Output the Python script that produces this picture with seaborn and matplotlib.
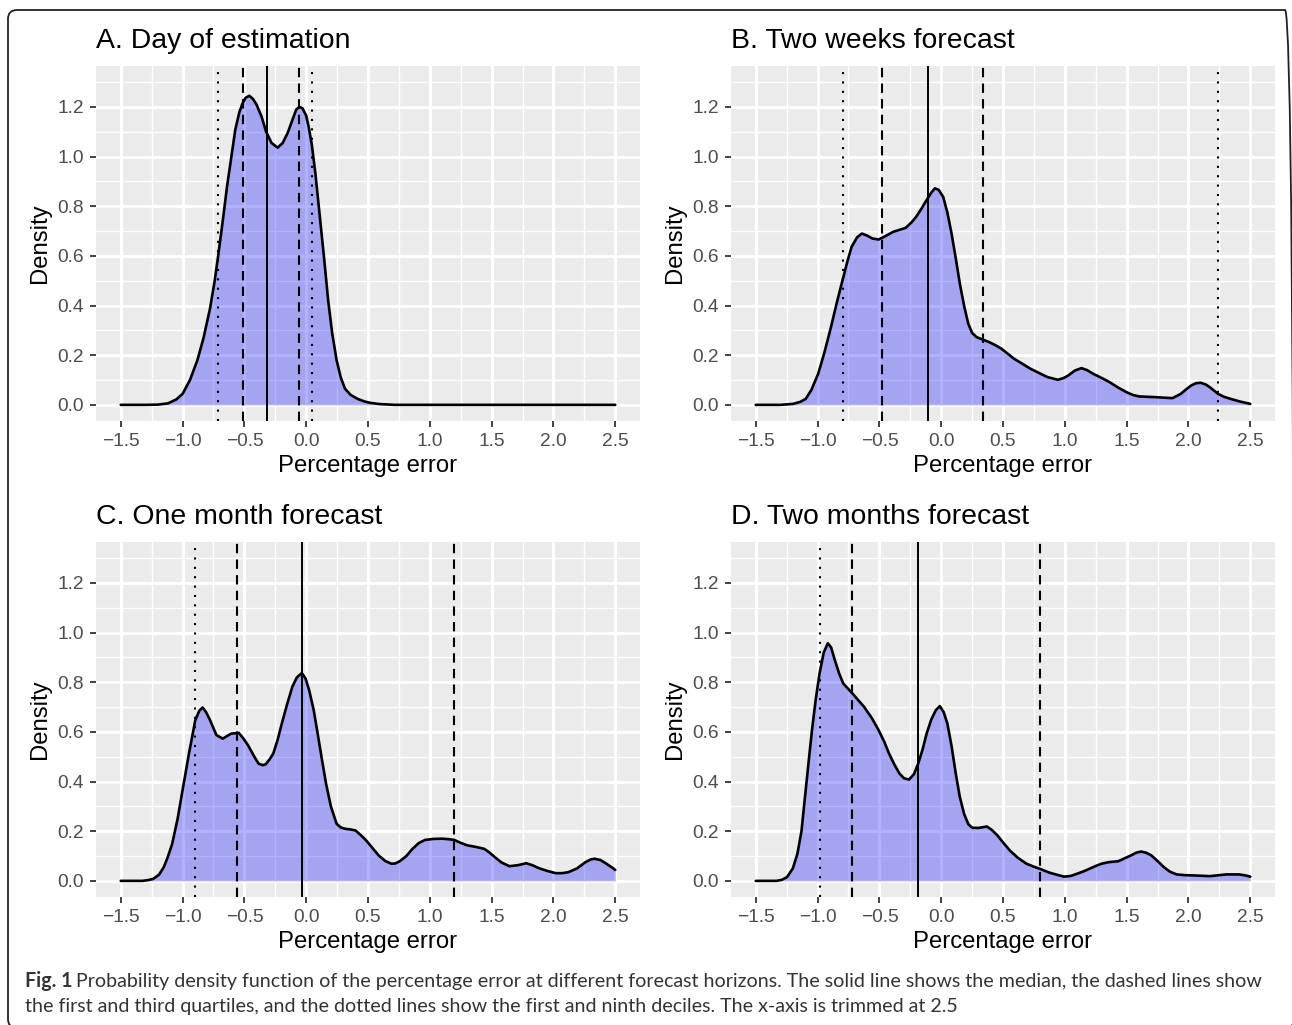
import matplotlib
matplotlib.use("Agg")
import matplotlib.pyplot as plt
from matplotlib.patches import FancyBboxPatch
from matplotlib.transforms import IdentityTransform
import pandas as pd
import seaborn as sns

W, H = 1292, 1025

titles = ["A. Day of estimation", "B. Two weeks forecast",
          "C. One month forecast", "D. Two months forecast"]

# density curves (x = percentage error, y = density)
day_x = [-1.5, -1.3, -1.2, -1.118, -1.05, -1.0, -0.94, -0.88, -0.83, -0.777, -0.74, -0.712,
         -0.675, -0.64, -0.605, -0.573, -0.54, -0.514, -0.49, -0.46, -0.43, -0.402, -0.36,
         -0.324, -0.28, -0.231, -0.19, -0.15, -0.11, -0.08, -0.055, -0.03, 0.0, 0.02, 0.045,
         0.075, 0.11, 0.145, 0.178, 0.21, 0.246, 0.28, 0.314, 0.36, 0.416, 0.47, 0.519, 0.6,
         0.72, 1.0, 1.5, 2.0, 2.5]
day_y = [0.0, 0.0, 0.001, 0.006, 0.022, 0.044, 0.1, 0.18, 0.27, 0.39, 0.5, 0.6,
         0.74, 0.88, 1.0, 1.11, 1.18, 1.215, 1.237, 1.245, 1.232, 1.21, 1.16,
         1.10, 1.055, 1.036, 1.055, 1.095, 1.15, 1.19, 1.20, 1.195, 1.165, 1.12, 1.05,
         0.93, 0.76, 0.59, 0.42, 0.29, 0.18, 0.11, 0.065, 0.04, 0.024, 0.014, 0.008, 0.003,
         0.0, 0.0, 0.0, 0.0, 0.0]

weeks_x = [-1.5, -1.4, -1.3, -1.197, -1.14, -1.096, -1.05, -0.995, -0.945, -0.893, -0.845,
           -0.799, -0.76, -0.725, -0.68, -0.641, -0.6, -0.556, -0.506, -0.45, -0.388, -0.287,
           -0.24, -0.203, -0.16, -0.118, -0.08, -0.051, -0.02, 0.016, 0.05, 0.084, 0.118,
           0.151, 0.185, 0.219, 0.25, 0.286, 0.34, 0.387, 0.44, 0.488, 0.589, 0.724, 0.859,
           0.943, 0.99, 1.027, 1.08, 1.135, 1.18, 1.23, 1.3, 1.364, 1.43, 1.499, 1.55, 1.6,
           1.735, 1.87, 1.937, 1.98, 2.022, 2.06, 2.099, 2.14, 2.173, 2.24, 2.29, 2.342,
           2.42, 2.5]
weeks_y = [0.0, 0.0, 0.0, 0.004, 0.012, 0.024, 0.06, 0.125, 0.21, 0.31, 0.41,
           0.50, 0.575, 0.636, 0.675, 0.69, 0.682, 0.67, 0.666, 0.68, 0.697, 0.713,
           0.735, 0.757, 0.79, 0.825, 0.855, 0.872, 0.866, 0.838, 0.775, 0.69, 0.59,
           0.488, 0.40, 0.327, 0.29, 0.273, 0.262, 0.253, 0.24, 0.226, 0.186, 0.145, 0.112,
           0.101, 0.108, 0.118, 0.138, 0.148, 0.14, 0.125, 0.108, 0.091, 0.07, 0.051, 0.04,
           0.034, 0.031, 0.027, 0.044, 0.062, 0.078, 0.087, 0.089, 0.082, 0.071, 0.044,
           0.032, 0.024, 0.013, 0.004]

month_x = [-1.5, -1.4, -1.323, -1.28, -1.237, -1.19, -1.152, -1.12, -1.084, -1.04, -1.0,
           -0.948, -0.897, -0.865, -0.838, -0.81, -0.777, -0.726, -0.675, -0.607, -0.545,
           -0.51, -0.47, -0.425, -0.385, -0.35, -0.327, -0.295, -0.266, -0.23, -0.197,
           -0.155, -0.112, -0.075, -0.035, -0.005, 0.024, 0.06, 0.093, 0.127, 0.161, 0.2,
           0.246, 0.28, 0.314, 0.36, 0.399, 0.44, 0.485, 0.54, 0.587, 0.64, 0.689, 0.72,
           0.757, 0.81, 0.86, 0.91, 0.962, 1.03, 1.098, 1.15, 1.197, 1.25, 1.303, 1.37,
           1.44, 1.48, 1.525, 1.58, 1.644, 1.71, 1.78, 1.83, 1.883, 1.95, 2.019, 2.07,
           2.121, 2.19, 2.258, 2.3, 2.333, 2.38, 2.428, 2.47, 2.5]
month_y = [0.0, 0.0, 0.0, 0.003, 0.008, 0.025, 0.055, 0.095, 0.149, 0.25, 0.365,
           0.513, 0.647, 0.685, 0.698, 0.68, 0.647, 0.587, 0.573, 0.593, 0.596,
           0.575, 0.546, 0.505, 0.472, 0.466, 0.47, 0.49, 0.513, 0.57, 0.634,
           0.71, 0.782, 0.82, 0.837, 0.815, 0.768, 0.69, 0.593, 0.49, 0.391, 0.3,
           0.23, 0.215, 0.21, 0.207, 0.203, 0.185, 0.163, 0.13, 0.102, 0.08, 0.069, 0.07,
           0.079, 0.1, 0.129, 0.152, 0.165, 0.169, 0.17, 0.168, 0.165, 0.153, 0.143, 0.137,
           0.129, 0.115, 0.096, 0.074, 0.059, 0.063, 0.071, 0.063, 0.051, 0.04, 0.031, 0.031,
           0.035, 0.05, 0.075, 0.086, 0.089, 0.084, 0.069, 0.055, 0.044]

months_x = [-1.5, -1.4, -1.332, -1.29, -1.247, -1.2, -1.163, -1.13, -1.096, -1.07, -1.045,
            -1.015, -0.984, -0.95, -0.917, -0.89, -0.86, -0.825, -0.792, -0.718, -0.624,
            -0.56, -0.506, -0.46, -0.422, -0.38, -0.337, -0.3, -0.26, -0.22, -0.186, -0.15,
            -0.118, -0.08, -0.044, -0.011, 0.02, 0.05, 0.085, 0.118, 0.15, 0.185, 0.22,
            0.252, 0.3, 0.37, 0.41, 0.455, 0.5, 0.556, 0.62, 0.69, 0.75, 0.802, 0.87, 0.926,
            0.994, 1.05, 1.095, 1.15, 1.196, 1.25, 1.297, 1.35, 1.432, 1.48, 1.533, 1.58,
            1.617, 1.66, 1.701, 1.75, 1.802, 1.85, 1.904, 1.97, 2.038, 2.173, 2.25, 2.308,
            2.409, 2.46, 2.5]
months_y = [0.0, 0.0, 0.0, 0.004, 0.015, 0.05, 0.109, 0.2, 0.365, 0.49, 0.607,
            0.73, 0.835, 0.92, 0.957, 0.94, 0.889, 0.835, 0.795, 0.755, 0.701,
            0.655, 0.607, 0.56, 0.513, 0.47, 0.432, 0.413, 0.408, 0.43, 0.472, 0.53,
            0.593, 0.65, 0.687, 0.704, 0.68, 0.634, 0.54, 0.432, 0.34, 0.27, 0.228,
            0.214, 0.213, 0.219, 0.205, 0.183, 0.155, 0.122, 0.093, 0.069, 0.057, 0.048, 0.034,
            0.026, 0.017, 0.02, 0.028, 0.038, 0.048, 0.06, 0.069, 0.075, 0.079, 0.09, 0.102,
            0.114, 0.118, 0.113, 0.102, 0.08, 0.055, 0.037, 0.026, 0.023, 0.022, 0.019, 0.023,
            0.026, 0.026, 0.022, 0.017]

# reference lines: median (solid), quartiles (dashed), deciles (dotted)
medians = [-0.32, -0.11, -0.034, -0.186]
quartiles = [[-0.512, -0.058], [-0.475, 0.337], [-0.562, 1.197], [-0.718, 0.802]]
deciles = [[-0.71, 0.045], [-0.795, 2.236], [-0.903], [-0.984]]

x_ticks = [-1.5, -1.0, -0.5, 0.0, 0.5, 1.0, 1.5, 2.0, 2.5]
y_ticks = [0.0, 0.2, 0.4, 0.6, 0.8, 1.0, 1.2]

caption_bold = "Fig. 1"
caption_1 = ("Probability density function of the percentage error at different forecast horizons. "
             "The solid line shows the median, the dashed lines show")
caption_2 = ("the first and third quartiles, and the dotted lines show the first and ninth deciles. "
             "The x-axis is trimmed at 2.5")

curves = [(day_x, day_y), (weeks_x, weeks_y), (month_x, month_y), (months_x, months_y)]

sns.set_theme(style="darkgrid", rc={
    "axes.facecolor": "#EBEBEB",
    "grid.color": "white",
    "axes.edgecolor": "#EBEBEB",
    "xtick.color": "#333333",
    "ytick.color": "#333333",
})
plt.rcParams["font.family"] = ["Liberation Sans", "DejaVu Sans"]

fig = plt.figure(figsize=(W / 100, H / 100), dpi=100)
fig.patch.set_facecolor("white")

# axes boxes in pixels: left, top
boxes = [(96, 66), (731, 66), (96, 542), (731, 542)]
pw, ph = 544, 355

for i, (left, top) in enumerate(boxes):
    ax = fig.add_axes([left / W, 1 - (top + ph) / H, pw / W, ph / H])
    xs, ys = curves[i]
    df = pd.DataFrame({"x": xs, "y": ys})
    ax.fill_between(df["x"], df["y"], 0, color="blue", alpha=0.3, lw=0, zorder=2)
    sns.lineplot(data=df, x="x", y="y", ax=ax, color="black", lw=1.9, sort=False,
                 errorbar=None, zorder=3)
    ax.axvline(medians[i], color="black", lw=1.4, zorder=4)
    for q in quartiles[i]:
        ax.axvline(q, color="black", lw=1.5, dashes=(4.5, 3), zorder=4)
    for d in deciles[i]:
        ax.axvline(d, color="black", lw=1.5, dashes=(1, 3.5), zorder=4)

    ax.set_xlim(-1.7, 2.7)
    ax.set_ylim(-0.065, 1.365)
    ax.set_xticks(x_ticks)
    ax.set_xticklabels([f"{v:.1f}".replace("-", "\u2212") for v in x_ticks])
    ax.set_yticks(y_ticks)
    ax.set_yticklabels([f"{v:.1f}" for v in y_ticks])
    ax.set_xticks([v + 0.25 for v in x_ticks[:-1]], minor=True)
    ax.set_yticks([v + 0.1 for v in y_ticks], minor=True)
    ax.grid(which="major", color="white", lw=2.1)
    ax.grid(which="minor", color="white", lw=1.0)
    ax.set_axisbelow(True)
    ax.tick_params(which="major", length=4.5, width=1.3, pad=4, labelsize=13.8,
                   labelcolor="#4D4D4D", bottom=True, left=True)
    ax.tick_params(which="minor", length=0)
    for s in ax.spines.values():
        s.set_visible(False)

    ax.set_xlabel("Percentage error", fontsize=17.2, color="black")
    ax.set_ylabel("Density", fontsize=17.2, color="black")
    ax.xaxis.set_label_coords(0.5, -45 / ph)
    ax.xaxis.label.set_va("center")
    ax.yaxis.set_label_coords(-56 / pw, 0.5)
    ax.yaxis.label.set_va("center")
    ax.set_title(titles[i], loc="left", fontsize=20.4, color="black", pad=13)

# figure frame (right and bottom edges fall just outside the picture)
frame = FancyBboxPatch((8, H - 1028), 1286, 1018, boxstyle="round,pad=0,rounding_size=9",
                       transform=IdentityTransform(), fill=False, lw=1.3, ec="#222222")
fig.add_artist(frame)

# caption: fit the first line between x=25 and x=1268
cap_font = ["Lato", "DejaVu Sans"]
base = 14.0
y1, y2 = 1 - 987 / H, 1 - 1012 / H
t0 = fig.text(25 / W, y1, caption_bold, fontsize=base, fontweight="bold",
              family=cap_font, color="#333333", va="baseline")
t1 = fig.text(25 / W, y1, caption_1, fontsize=base, family=cap_font,
              color="#333333", va="baseline")
fig.canvas.draw()
r = fig.canvas.get_renderer()
total = t0.get_window_extent(r).width + 5 + t1.get_window_extent(r).width
size = base * (1268 - 25) / total
t0.set_fontsize(size)
t1.set_fontsize(size)
fig.canvas.draw()
bx = t0.get_window_extent(r).x1
t1.set_x((bx + 4) / W)
fig.text(25 / W, y2, caption_2, fontsize=size, family=cap_font,
         color="#333333", va="baseline")

fig.savefig("out.png", dpi=100)
